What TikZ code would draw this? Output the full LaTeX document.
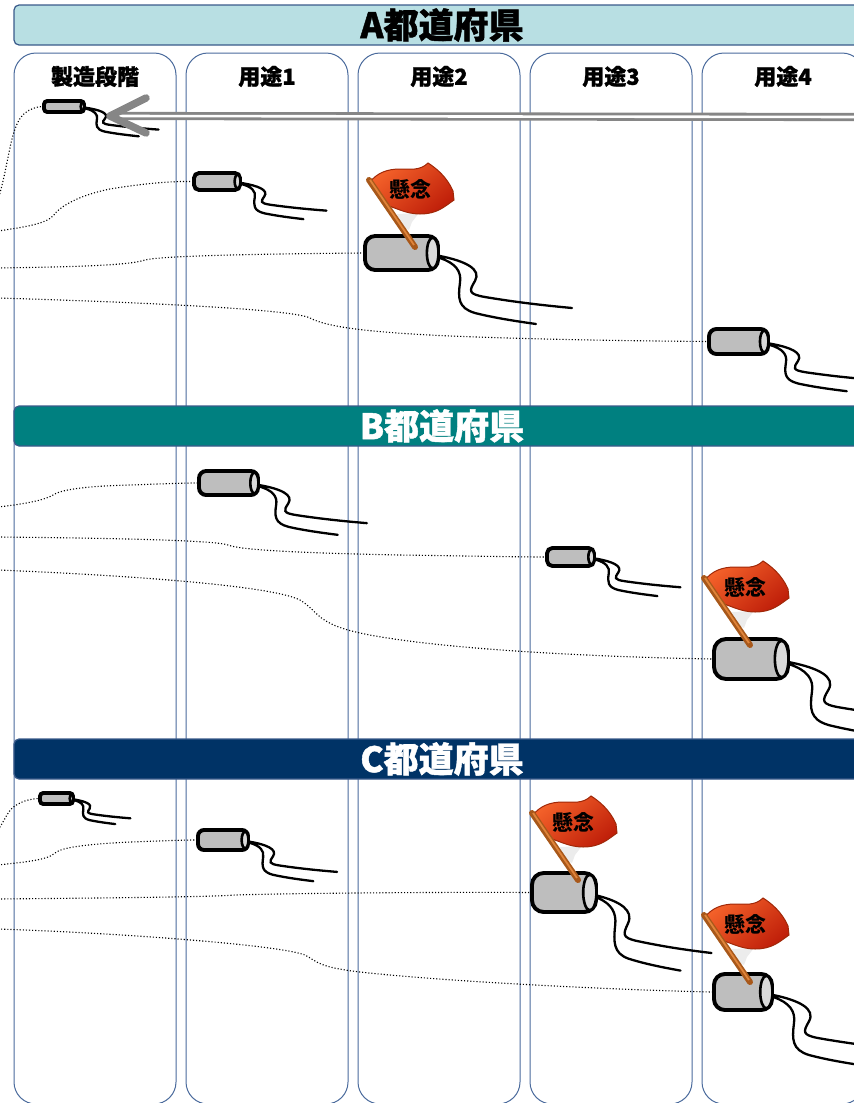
\documentclass[tikz,border=0pt]{standalone}
\usepackage{fontspec}
\newfontfamily\jp{Noto Sans CJK JP}
\newfontfamily\jpheavy{Noto Sans CJK JP}[FakeBold=1.2]
\usetikzlibrary{positioning, calc}
\definecolor{laneblue}{HTML}{4A6A9C}
\definecolor{prefA}{HTML}{B8DFE3}
\definecolor{prefB}{HTML}{008080}
\definecolor{prefC}{HTML}{003366}
\definecolor{prefrim}{HTML}{3A5A8A}
\definecolor{cangray}{HTML}{BEBEBE}
\definecolor{canend}{HTML}{DADADA}
\definecolor{flagtop}{HTML}{F4622A}
\definecolor{flagbot}{HTML}{C0200A}
\definecolor{flagrim}{HTML}{A02808}
\definecolor{pole}{HTML}{A8581A}
\definecolor{polelight}{HTML}{E0843A}
\definecolor{arrowgray}{HTML}{868686}
\tikzset{
  lane/.style={draw=laneblue, line width=1, rounded corners=22, minimum width=162, minimum height=1051, inner sep=0},
  lanehead/.style={font=\jpheavy\bfseries\fontsize{22}{22}\selectfont, inner sep=0},
  pref/.style={draw=prefrim, line width=1.2, rounded corners=5, minimum width=856, minimum height=40, inner sep=0, font=\jpheavy\bfseries\fontsize{35}{35}\selectfont},
  can/.style={draw, line width=3.9, fill=cangray, inner sep=0},
  canrim/.style={draw, line width=2.6, fill=canend},
  cable/.style={line width=2.3, line cap=round},
  trace/.style={line width=1.1, dash pattern=on 1.1pt off 2pt},
  supply/.style={draw=arrowgray, line width=2.8, double=white, double distance=2.6},
  chev/.style={draw=arrowgray, line width=7.5, line cap=round, line join=round},
  concern/.style={font=\jp\bfseries\fontsize{21}{21}\selectfont, inner sep=0}
}
% can with its two cables: name, x, y, width, height, cable xscale, cable yscale
\newcommand\drawcan[7]{%
  \node[can, minimum width=#4, minimum height=#5, rounded corners={0.3*#5}] (#1) at (#2,#3) {};
  \draw[canrim] ([xshift={-0.17*#5-1.5}]#1.east) ellipse [x radius={0.17*#5}, y radius={0.5*#5-1.7}];
  \draw[cable, shift={(#1.east)}, xscale=#6, yscale=#7]
    (0,3) .. controls (25,8) and (42,16) .. (35,28) .. controls (29,38) and (28,41) .. (45,44)
      .. controls (75,49) and (100,52) .. (132,55)
    (0,5) .. controls (15,10) and (22,18) .. (20,30) .. controls (18,45) and (18,55) .. (35,60)
      .. controls (55,65) and (75,68) .. (96,71);
}
% flag stuck into a can: name, foot x, foot y
\newcommand\drawflag[3]{%
  \begin{scope}[shift={(#2,#3)}]
    \fill[gray!15] (-18,-33) -- (4,-34) -- (-3,-25) -- (-6,-17) -- (-13,-20) -- cycle;
    \shadedraw[top color=flagtop, bottom color=flagbot, shading angle=40, draw=flagrim, line width=1]
      (-45,-65) .. controls (-38,-74) and (-28,-78) .. (-15,-78) .. controls (-5,-78) and (5,-76) .. (13,-84)
      .. controls (21,-79) and (32,-70) .. (38,-56) -- (39,-47)
      .. controls (29,-40) and (22,-33) .. (5,-33) .. controls (-10,-33) and (-20,-40) .. (-30,-42) -- cycle;
    \draw[pole, line width=6, line cap=round] (-46,-67) -- (0,0);
    \draw[polelight, line width=1.8] (-45,-67) -- (-1,-2);
    \node[concern] (#1) at (-5,-58) {懸念};
  \end{scope}
}

\begin{document}
\begin{tikzpicture}[x=1pt, y=-1pt]
  \useasboundingbox (0,0) rectangle (854,1103);
  % swim lanes
  \node[lane] (lane0) at (95,578.5) {};
  \node[lane, right=9pt of lane0] (lane1) {};
  \node[lane, right=9pt of lane1] (lane2) {};
  \node[lane, right=9pt of lane2] (lane3) {};
  \node[lane, right=9pt of lane3] (lane4) {};
  \node[lanehead] (head0) at ([yshift=-24pt]lane0.north) {製造段階};
  \node[lanehead] (head1) at ([yshift=-24pt]lane1.north) {用途1};
  \node[lanehead] (head2) at ([yshift=-24pt]lane2.north) {用途2};
  \node[lanehead] (head3) at ([yshift=-24pt]lane3.north) {用途3};
  \node[lanehead] (head4) at ([yshift=-24pt]lane4.north) {用途4};

  % cans
  \drawcan{a0}{64}{106.5}{40}{11}{0.55}{0.42}
  \drawcan{a1}{217}{181.5}{46}{17}{0.64}{0.53}
  \drawcan{a2}{401.5}{253}{73}{34}{1}{1}
  \drawcan{a4}{738.5}{341.5}{59}{25}{0.8}{0.7}
  \drawcan{b1}{228.5}{483}{59}{24}{0.81}{0.73}
  \drawcan{b3}{570.5}{557}{47}{18}{0.64}{0.55}
  \drawcan{b4}{751}{659}{74}{40}{1.1}{1.1}
  \drawcan{c0}{56.5}{798.5}{33}{11}{0.42}{0.36}
  \drawcan{c1}{223}{840}{50}{20}{0.66}{0.58}
  \drawcan{c3}{564}{892.5}{64}{39}{0.86}{1.1}
  \drawcan{c4}{743}{992}{58}{36}{1}{1.05}

  % traces coming in from the left
  \coordinate (inA0) at (-2,200);
  \coordinate (inA1) at (-2,231);
  \coordinate (inA2) at (-2,268);
  \coordinate (inA4) at (-2,298);
  \coordinate (inB1) at (-2,507);
  \coordinate (inB3) at (-2,537);
  \coordinate (inB4) at (-2,570);
  \coordinate (inC0) at (-2,830);
  \coordinate (inC1) at (-2,865);
  \coordinate (inC3) at (-2,899);
  \coordinate (inC4) at (-2,929);
  \draw[trace] (inA0) .. controls (10,160) and (10,125) .. (25,113) .. controls (30,109) and (36,107) .. (a0.west);
  \draw[trace] (inA1) .. controls (25,227) and (45,224) .. (53,216) .. controls (60,206) and (80,195) .. (110,189)
    .. controls (140,184) and (170,181) .. (a1.west);
  \draw[trace] (inA2) .. controls (60,267) and (128,266) .. (145,260) .. controls (160,256) and (250,254) .. (a2.west);
  \draw[trace] (inA4) .. controls (100,301) and (290,308) .. (310,318) .. controls (325,326) and (360,332) .. (450,336)
    .. controls (550,340) and (650,341) .. (a4.west);
  \draw[trace] (inB1) .. controls (25,504) and (45,500) .. (53,495) .. controls (62,489) and (90,486) .. (130,485)
    .. controls (160,484) and (180,483) .. (b1.west);
  \draw[trace] (inB3) .. controls (100,538) and (215,540) .. (228,545) .. controls (240,550) and (300,553) .. (400,555)
    .. controls (470,556) and (520,557) .. (b3.west);
  \draw[trace] (inB4) .. controls (120,575) and (270,585) .. (300,600) .. controls (320,612) and (315,625) .. (370,635)
    .. controls (450,650) and (600,657) .. (b4.west);
  \draw[trace] (inC0) .. controls (5,820) and (8,810) .. (15,806) .. controls (22,801) and (30,799) .. (c0.west);
  \draw[trace] (inC1) .. controls (25,862) and (48,860) .. (55,853) .. controls (62,847) and (90,844) .. (130,842)
    .. controls (160,841) and (180,840) .. (c1.west);
  \draw[trace] (inC3) .. controls (100,898) and (210,897) .. (235,895) .. controls (300,893) and (450,892) .. (c3.west);
  \draw[trace] (inC4) .. controls (120,933) and (280,945) .. (305,955) .. controls (318,962) and (318,967) .. (360,972)
    .. controls (450,982) and (620,990) .. (c4.west);

  % prefecture bands
  \node[pref, fill=prefA, text=black] (prefA) at (442,25) {A都道府県};
  \node[pref, fill=prefB, text=white] (prefB) at (442,426) {B都道府県};
  \node[pref, fill=prefC, text=white] (prefC) at (442,759) {C都道府県};

  % concern flags
  \drawflag{worryA2}{415}{247}
  \drawflag{worryB4}{750}{645}
  \drawflag{worryC3}{578}{880}
  \drawflag{worryC4}{750}{982}

  % recall arrow back to production
  \coordinate (inflow) at (860,117);
  \coordinate (tip) at (110,116);
  \draw[supply] (inflow) -- ([xshift=4pt]tip);
  \draw[chev] ([xshift=36pt, yshift=18pt]tip) -- (tip) -- ([xshift=36pt, yshift=-17pt]tip);
\end{tikzpicture}
\end{document}
